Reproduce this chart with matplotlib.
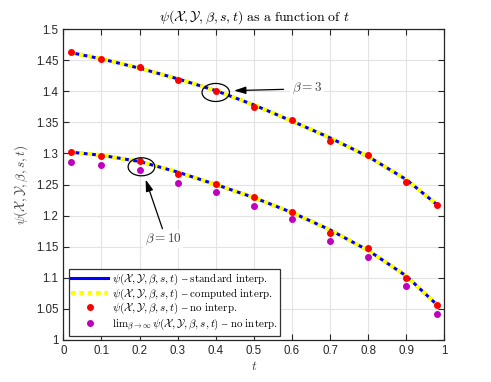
import matplotlib
matplotlib.use("Agg")
import matplotlib.pyplot as plt
from matplotlib.patches import Ellipse

plt.rcParams['mathtext.fontset'] = 'cm'
plt.rcParams['font.family'] = ['Liberation Sans', 'DejaVu Sans']

t = [0.02, 0.1, 0.2, 0.3, 0.4, 0.5, 0.6, 0.7, 0.8, 0.9, 0.98]

# beta = 3
line_b3 = [1.462, 1.452, 1.437, 1.420, 1.401, 1.378, 1.352, 1.325, 1.295, 1.258, 1.218]
pts_b3 = [1.4625, 1.4525, 1.439, 1.4175, 1.400, 1.3746, 1.353, 1.320, 1.2974, 1.254, 1.217]

# beta = 10
line_b10 = [1.302, 1.297, 1.287, 1.270, 1.250, 1.229, 1.205, 1.177, 1.144, 1.103, 1.057]
pts_b10 = [1.3017, 1.2963, 1.2873, 1.2669, 1.2508, 1.2294, 1.2058, 1.1715, 1.1474, 1.1002, 1.0563]
lim_b10 = [1.2857, 1.2814, 1.2728, 1.2524, 1.2374, 1.2154, 1.194, 1.159, 1.134, 1.0868, 1.0418]

xticks = [0, 0.1, 0.2, 0.3, 0.4, 0.5, 0.6, 0.7, 0.8, 0.9, 1]
xticklabels = ['0', '0.1', '0.2', '0.3', '0.4', '0.5', '0.6', '0.7', '0.8', '0.9', '1']
yticks = [1, 1.05, 1.1, 1.15, 1.2, 1.25, 1.3, 1.35, 1.4, 1.45, 1.5]
yticklabels = ['1', '1.05', '1.1', '1.15', '1.2', '1.25', '1.3', '1.35', '1.4', '1.45', '1.5']

psi = r"\psi(\mathcal{X},\mathcal{Y},\beta,s,t)"

fig = plt.figure(figsize=(4.91, 3.82), dpi=100)
ax = fig.add_axes([0.129, 0.110, 0.776, 0.814])

yellow_ls = (0, (1.1, 0.9))
for line in (line_b3, line_b10):
    ax.plot(t, line, color='#0000ff', lw=2.2, solid_capstyle='butt', zorder=3)
    ax.plot(t, line, color='#ffff00', lw=3.0, linestyle=yellow_ls, zorder=4)
for pts in (pts_b3, pts_b10):
    ax.plot(t, pts, 'o', color='#ff0000', ms=4.0, mec='#ff0000', zorder=5)
ax.plot(t, lim_b10, 'o', color='#bf00bf', ms=4.0, mec='#bf00bf', zorder=5)

# legend handles
h1, = ax.plot([], [], color='#0000ff', lw=2.2)
h2, = ax.plot([], [], color='#ffff00', lw=3.0, linestyle=yellow_ls)
h3, = ax.plot([], [], 'o', color='#ff0000', ms=4.0)
h4, = ax.plot([], [], 'o', color='#bf00bf', ms=4.0)
leg = ax.legend([h1, h2, h3, h4],
                [rf"${psi}\ \mathrm{{–\ standard\ interp.}}$",
                 rf"${psi}\ \mathrm{{–\ computed\ interp.}}$",
                 rf"${psi}\ \mathrm{{–\ no\ interp.}}$",
                 rf"$\mathrm{{lim}}_{{\beta\to\infty}}\,{psi}\ \mathrm{{–\ no\ interp.}}$"],
                loc='lower left', bbox_to_anchor=(0.014, 0.014), fontsize=7.9,
                fancybox=False, edgecolor='#333333', framealpha=1,
                handlelength=3.3, handletextpad=0.4, borderpad=0.25,
                labelspacing=-0.05, borderaxespad=0)
leg.get_frame().set_linewidth(0.9)

# annotations
ax.add_patch(Ellipse((0.4, 1.398), 0.072, 0.029, fill=False, color='black', lw=0.9, zorder=6))
ax.add_patch(Ellipse((0.205, 1.2785), 0.07, 0.029, fill=False, color='black', lw=0.9, zorder=6))
ax.annotate('', xy=(0.448, 1.401), xytext=(0.578, 1.403),
            arrowprops=dict(arrowstyle='-|>,head_length=0.7,head_width=0.22', color='black', lw=0.9,
                            shrinkA=0, shrinkB=0), zorder=7)
ax.text(0.6, 1.404, r"$\beta = 3$", fontsize=9.5, color='#404040', ha='left', va='center',
        bbox=dict(facecolor='white', edgecolor='none', pad=1), zorder=7)
ax.annotate('', xy=(0.216, 1.258), xytext=(0.26, 1.179),
            arrowprops=dict(arrowstyle='-|>,head_length=0.7,head_width=0.22', color='black', lw=0.9,
                            shrinkA=0, shrinkB=0), zorder=7)
ax.text(0.262, 1.162, r"$\beta = 10$", fontsize=9.5, color='#404040', ha='center', va='center',
        bbox=dict(facecolor='white', edgecolor='none', pad=1), zorder=7)

ax.set_xlim(0, 1)
ax.set_ylim(1, 1.5)
ax.set_xticks(xticks)
ax.set_xticklabels(xticklabels)
ax.set_yticks(yticks)
ax.set_yticklabels(yticklabels)
ax.tick_params(direction='in', top=True, right=True, labelsize=8.3, colors='#262626',
               length=4, width=0.8)
ax.grid(True, color='#e3e3e3', lw=0.8)
ax.set_axisbelow(True)
for s in ax.spines.values():
    s.set_color('#262626')
    s.set_linewidth(0.9)

ax.set_title(rf"${psi}\ \mathrm{{as\ a\ function\ of}}\ t$", fontsize=10, pad=6)
ax.set_xlabel(r"$t$", fontsize=9.5, color='#404040', labelpad=2)
ax.set_ylabel(rf"${psi}$", fontsize=9.5, color='#404040', labelpad=4)

fig.savefig('out.png', dpi=100)
